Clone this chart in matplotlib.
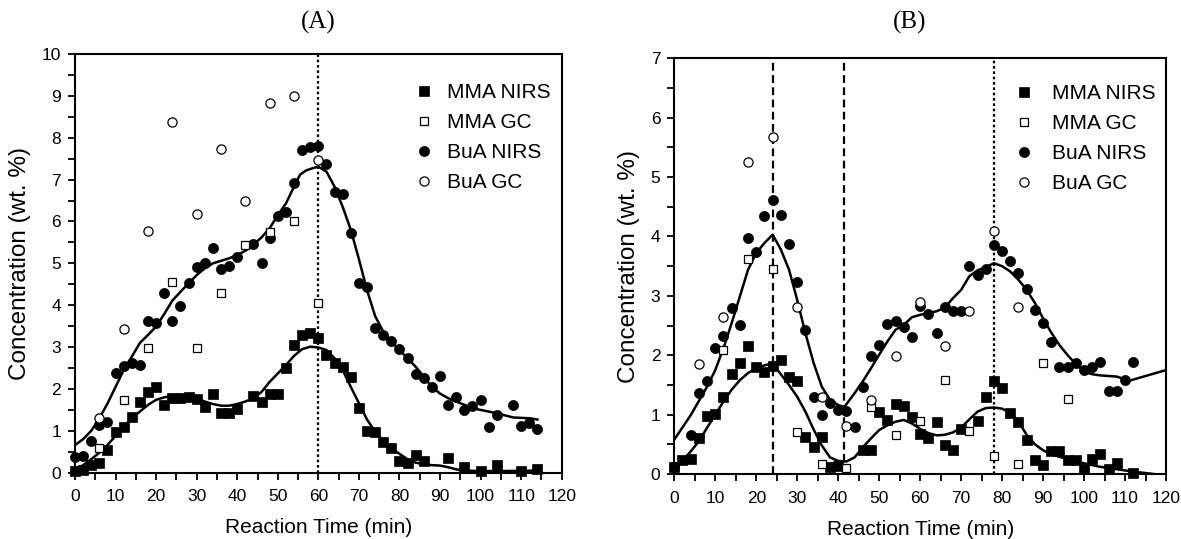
import matplotlib
matplotlib.use("Agg")
import matplotlib.pyplot as plt
from matplotlib.lines import Line2D
from matplotlib.ticker import MultipleLocator

plt.rcParams['font.family'] = ['Liberation Sans', 'DejaVu Sans']

# ---------------- Panel A data ----------------
a_mma_nirs_x = [0, 2, 4, 6, 8, 10, 12, 14, 16, 18, 20, 22, 24, 26, 28, 30, 32, 34, 36, 38, 40,
                44, 46, 48, 50, 52, 54, 56, 58, 60, 62, 64, 66, 68, 70, 72, 74, 76, 78, 80, 82,
                84, 86, 92, 96, 100, 104, 110, 114]
a_mma_nirs_y = [0.05, 0.06, 0.18, 0.24, 0.54, 0.98, 1.08, 1.32, 1.70, 1.93, 2.04, 1.62, 1.78, 1.78,
                1.80, 1.76, 1.58, 1.89, 1.42, 1.43, 1.51, 1.82, 1.70, 1.88, 1.89, 2.49, 3.05, 3.29,
                3.34, 3.21, 2.81, 2.61, 2.53, 2.29, 1.55, 1.00, 0.98, 0.74, 0.58, 0.29, 0.24, 0.42,
                0.29, 0.34, 0.14, 0.05, 0.18, 0.04, 0.09]

a_mma_gc_x = [6, 12, 18, 24, 30, 36, 42, 48, 54, 60]
a_mma_gc_y = [0.58, 1.74, 2.99, 4.56, 2.97, 4.28, 5.44, 5.76, 6.02, 4.06]

a_bua_nirs_x = [0, 2, 4, 6, 8, 10, 12, 14, 16, 18, 20, 22, 24, 26, 28, 30, 32, 34, 36, 38, 40,
                44, 46, 48, 50, 52, 54, 56, 58, 60, 62, 64, 66, 68, 70, 72, 74, 76, 78, 80, 82,
                84, 86, 88, 90, 92, 94, 96, 98, 100, 102, 104, 108, 110, 112, 114]
a_bua_nirs_y = [0.38, 0.40, 0.76, 1.15, 1.22, 2.37, 2.55, 2.63, 2.57, 3.63, 3.57, 4.28, 3.63, 3.98,
                4.54, 4.92, 5.00, 5.37, 4.86, 4.94, 5.14, 5.46, 5.02, 5.60, 6.13, 6.23, 6.93, 7.71,
                7.77, 7.80, 7.37, 6.70, 6.66, 5.73, 4.54, 4.43, 3.45, 3.29, 3.15, 2.95, 2.73, 2.36,
                2.27, 2.04, 2.31, 1.62, 1.80, 1.50, 1.59, 1.74, 1.08, 1.38, 1.62, 1.11, 1.19, 1.04]

a_bua_gc_x = [6, 12, 18, 24, 30, 36, 42, 48, 54, 60]
a_bua_gc_y = [1.30, 3.43, 5.78, 8.37, 6.18, 7.73, 6.50, 8.84, 9.00, 7.47]

# fitted curves (panel A)
a_fit_bua_x = [0, 2, 4, 6, 8, 10, 12, 14, 16, 18, 20, 22, 24, 26, 28, 30, 32, 34, 36, 38, 40, 42,
               44, 46, 48, 50, 52, 54, 55.5, 57, 58.5, 60, 62, 64, 66, 68, 70, 72, 74, 76, 78, 80,
               82, 84, 86, 88, 90, 92, 94, 96, 98, 100, 104, 108, 112, 114]
a_fit_bua_y = [0.66, 0.80, 1.00, 1.30, 1.65, 2.05, 2.45, 2.77, 3.10, 3.29, 3.49, 3.79, 4.11, 4.32,
               4.52, 4.72, 4.88, 5.00, 5.06, 5.12, 5.20, 5.30, 5.45, 5.62, 5.84, 6.15, 6.43, 6.83,
               7.12, 7.22, 7.27, 7.31, 7.19, 6.83, 6.35, 5.80, 5.10, 4.36, 3.74, 3.37, 3.13, 2.93,
               2.73, 2.53, 2.29, 2.05, 1.89, 1.78, 1.70, 1.62, 1.54, 1.50, 1.42, 1.32, 1.30, 1.27]

a_fit_mma_x = [0, 2, 4, 6, 8, 10, 12, 14, 16, 18, 20, 22, 24, 26, 28, 30, 32, 34, 36, 38, 40, 42,
               44, 46, 48, 50, 52, 54, 56, 58, 60, 62, 64, 66, 68, 70, 72, 74, 76, 78, 80, 82, 84,
               86, 88, 90, 92, 94, 96, 100, 106, 114]
a_fit_mma_y = [0.08, 0.18, 0.32, 0.48, 0.66, 0.88, 1.10, 1.30, 1.46, 1.62, 1.74, 1.80, 1.83, 1.84,
               1.82, 1.76, 1.70, 1.64, 1.60, 1.60, 1.64, 1.70, 1.78, 1.93, 2.17, 2.37, 2.57, 2.79,
               2.95, 3.01, 2.99, 2.93, 2.73, 2.45, 2.05, 1.66, 1.27, 0.98, 0.76, 0.58, 0.45, 0.32,
               0.24, 0.20, 0.18, 0.17, 0.13, 0.08, 0.05, 0.04, 0.04, 0.05]

a_vlines = [60]

# ---------------- Panel B data ----------------
b_mma_nirs_x = [0, 2, 4, 6, 8, 10, 12, 14, 16, 18, 20, 22, 24, 26, 28, 30, 32, 34, 36, 38, 40,
                46, 48, 50, 52, 54, 56, 58, 60, 62, 64, 66, 68, 70, 74, 76, 78, 80, 82, 84, 86, 88,
                90, 92, 94, 96, 98, 100, 102, 104, 106, 108, 112]
b_mma_nirs_y = [0.11, 0.24, 0.26, 0.60, 0.98, 1.01, 1.29, 1.69, 1.87, 2.15, 1.81, 1.72, 1.82, 1.92,
                1.64, 1.56, 0.63, 0.46, 0.63, 0.11, 0.13, 0.40, 0.40, 1.04, 0.91, 1.18, 1.14, 0.96,
                0.67, 0.60, 0.88, 0.49, 0.40, 0.75, 0.90, 1.29, 1.56, 1.44, 1.03, 0.88, 0.58, 0.24,
                0.15, 0.38, 0.39, 0.24, 0.24, 0.08, 0.25, 0.34, 0.08, 0.19, 0.02]

b_mma_gc_x = [12, 18, 24, 30, 36, 42, 48, 54, 60, 66, 72, 78, 84, 90, 96]
b_mma_gc_y = [2.08, 3.62, 3.45, 0.71, 0.17, 0.10, 1.12, 0.66, 0.90, 1.58, 0.73, 0.30, 0.16, 1.87, 1.26]

b_bua_nirs_x = [0, 4, 6, 8, 10, 12, 14, 16, 18, 20, 22, 24, 26, 28, 30, 32, 34, 36, 38, 40, 42, 44,
                46, 48, 50, 52, 54, 56, 58, 60, 62, 64, 66, 68, 70, 72, 74, 76, 78, 80, 82, 84, 86,
                88, 90, 92, 94, 96, 98, 100, 102, 104, 106, 108, 110, 112]
b_bua_nirs_y = [0.11, 0.66, 1.37, 1.57, 2.13, 2.33, 2.79, 2.51, 3.97, 3.73, 4.34, 4.62, 4.36, 3.87,
                3.24, 2.42, 1.29, 0.99, 1.20, 1.08, 1.06, 0.79, 1.47, 1.98, 2.17, 2.53, 2.57, 2.47,
                2.31, 2.83, 2.70, 2.38, 2.81, 2.74, 2.74, 3.51, 3.35, 3.45, 3.86, 3.75, 3.58, 3.39,
                3.11, 2.76, 2.55, 2.23, 1.81, 1.80, 1.87, 1.75, 1.80, 1.88, 1.40, 1.40, 1.58, 1.89]

b_bua_gc_x = [6, 12, 18, 24, 30, 36, 42, 48, 54, 60, 66, 72, 78, 84]
b_bua_gc_y = [1.85, 2.64, 5.26, 5.68, 2.81, 1.29, 0.81, 1.24, 1.98, 2.89, 2.16, 2.74, 4.10, 2.81]

b_fit_bua_x = [0, 4, 8, 10, 12, 14, 16, 18, 20, 22, 24, 26, 28, 30, 32, 34, 36, 38, 40, 41.5, 44,
               46, 48, 50, 52, 54, 56, 58, 60, 62, 64, 66, 68, 70, 72, 74, 76, 78, 80, 82, 84, 86,
               88, 90, 92, 94, 96, 98, 100, 102, 104, 108, 111, 115, 120]
b_fit_bua_y = [0.58, 0.99, 1.47, 1.75, 2.12, 2.54, 2.99, 3.44, 3.72, 3.89, 4.03, 3.78, 3.44, 2.93,
               2.37, 1.87, 1.47, 1.25, 1.16, 1.13, 1.36, 1.56, 1.78, 2.01, 2.23, 2.43, 2.51, 2.64,
               2.68, 2.71, 2.74, 2.80, 2.96, 3.10, 3.33, 3.43, 3.48, 3.55, 3.50, 3.41, 3.27, 3.10,
               2.88, 2.62, 2.38, 2.17, 2.00, 1.85, 1.72, 1.68, 1.66, 1.64, 1.57, 1.65, 1.75]

b_fit_mma_x = [0, 2, 4, 6, 8, 10, 12, 14, 16, 18, 20, 22, 24, 26, 28, 30, 32, 34, 36, 38, 40, 42,
               44, 46, 48, 50, 52, 54, 56, 58, 60, 62, 64, 66, 68, 70, 72, 74, 76, 78, 80, 82, 84,
               86, 88, 90, 92, 94, 97, 100, 104, 108, 112, 117]
b_fit_mma_y = [0.11, 0.22, 0.38, 0.55, 0.78, 1.00, 1.22, 1.42, 1.58, 1.70, 1.78, 1.83, 1.86, 1.68,
               1.50, 1.30, 1.05, 0.75, 0.48, 0.28, 0.22, 0.21, 0.28, 0.45, 0.60, 0.74, 0.82, 0.88,
               0.91, 0.85, 0.76, 0.69, 0.65, 0.66, 0.70, 0.78, 0.92, 1.05, 1.11, 1.12, 1.10, 1.03,
               0.88, 0.66, 0.50, 0.40, 0.33, 0.29, 0.23, 0.18, 0.12, 0.08, 0.04, 0.0]

b_vlines_dashed = [24, 41.5]
b_vlines_dotted = [78]

legend_labels = ['MMA NIRS', 'MMA GC', 'BuA NIRS', 'BuA GC']

# ---------------- Figure ----------------
W, H = 1181, 539
fig = plt.figure(figsize=(W / 100, H / 100), dpi=100)

axA = fig.add_axes([75 / W, 1 - 472.7 / H, (561.7 - 75) / W, (472.7 - 54) / H])
axB = fig.add_axes([674.3 / W, 1 - 474 / H, (1166 - 674.3) / W, (474 - 58.3) / H])

styles = dict(
    mma_nirs=dict(marker='s', ms=6.6, mfc='black', mec='black', mew=0.5, ls='none'),
    mma_gc=dict(marker='s', ms=5.8, mfc='white', mec='black', mew=0.9, ls='none'),
    bua_nirs=dict(marker='o', ms=7.3, mfc='black', mec='black', mew=0.5, ls='none'),
    bua_gc=dict(marker='o', ms=6.6, mfc='white', mec='black', mew=0.9, ls='none'),
)


def style_axes(ax, ymax):
    ax.set_xlim(0, 120)
    ax.set_ylim(0, ymax)
    ax.xaxis.set_major_locator(MultipleLocator(10))
    ax.xaxis.set_minor_locator(MultipleLocator(5))
    ax.yaxis.set_major_locator(MultipleLocator(1))
    ax.yaxis.set_minor_locator(MultipleLocator(0.5))
    ax.tick_params(which='both', direction='out', length=5, width=1.3, labelsize=12.5,
                   top=False, right=False)
    ax.tick_params(axis='x', which='both', pad=7)
    ax.tick_params(axis='y', which='both', pad=5)
    for s in ax.spines.values():
        s.set_linewidth(1.5)
    ax.set_xlabel('Reaction Time (min)', fontsize=15, labelpad=10)
    ax.set_ylabel('Concentration (wt. %)', fontsize=17.5, labelpad=8)


def legend(ax, bx, by, pad):
    handles = [Line2D([], [], **styles[k]) for k in ['mma_nirs', 'mma_gc', 'bua_nirs', 'bua_gc']]
    ax.legend(handles, legend_labels, loc='upper left', bbox_to_anchor=(bx, by),
              frameon=False, fontsize=15, handlelength=1.0, handletextpad=pad,
              labelspacing=0.53, borderpad=0, borderaxespad=0)


# Panel A
style_axes(axA, 10)
for xv in a_vlines:
    axA.axvline(xv, color='black', ls=(0, (1.2, 1.2)), lw=1.6, zorder=1)
axA.plot(a_fit_bua_x, a_fit_bua_y, color='black', lw=1.8, zorder=2)
axA.plot(a_fit_mma_x, a_fit_mma_y, color='black', lw=1.8, zorder=2)
axA.plot(a_mma_nirs_x, a_mma_nirs_y, clip_on=False, zorder=3, **styles['mma_nirs'])
axA.plot(a_bua_nirs_x, a_bua_nirs_y, clip_on=False, zorder=3, **styles['bua_nirs'])
axA.plot(a_mma_gc_x, a_mma_gc_y, clip_on=False, zorder=4, **styles['mma_gc'])
axA.plot(a_bua_gc_x, a_bua_gc_y, clip_on=False, zorder=4, **styles['bua_gc'])
legend(axA, 0.695, 0.93, 0.6)

# Panel B
style_axes(axB, 7)
for xv in b_vlines_dashed:
    axB.axvline(xv, color='black', ls=(0, (3.5, 2)), lw=1.6, zorder=1)
for xv in b_vlines_dotted:
    axB.axvline(xv, color='black', ls=(0, (1.2, 1.2)), lw=1.6, zorder=1)
axB.plot(b_fit_bua_x, b_fit_bua_y, color='black', lw=1.8, zorder=2)
axB.plot(b_fit_mma_x, b_fit_mma_y, color='black', lw=1.8, zorder=2)
axB.plot(b_mma_nirs_x, b_mma_nirs_y, clip_on=False, zorder=3, **styles['mma_nirs'])
axB.plot(b_bua_nirs_x, b_bua_nirs_y, clip_on=False, zorder=3, **styles['bua_nirs'])
axB.plot(b_mma_gc_x, b_mma_gc_y, clip_on=False, zorder=4, **styles['mma_gc'])
axB.plot(b_bua_gc_x, b_bua_gc_y, clip_on=False, zorder=4, **styles['bua_gc'])
legend(axB, 0.69, 0.938, 0.85)

fig.text(318 / W, 1 - 22 / H, '(A)', ha='center', va='center', fontsize=18,
         family=['Liberation Serif', 'DejaVu Serif'])
fig.text(910 / W, 1 - 22 / H, '(B)', ha='center', va='center', fontsize=18,
         family=['Liberation Serif', 'DejaVu Serif'])

fig.savefig('out.png', dpi=100)
